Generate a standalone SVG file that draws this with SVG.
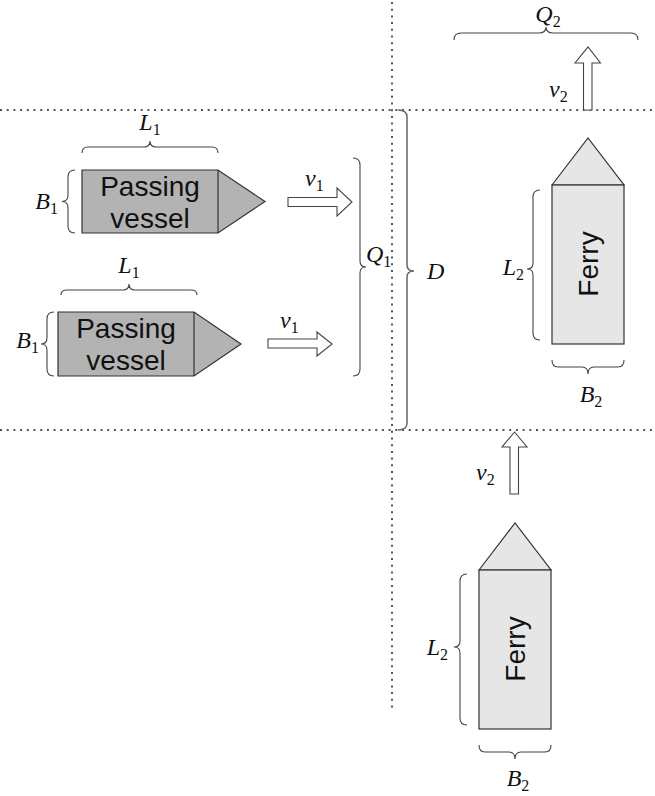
<svg xmlns="http://www.w3.org/2000/svg" width="655" height="796" viewBox="0 0 655 796">
  <style>
    .grid { stroke: #555; stroke-width: 2; stroke-dasharray: 2 4.7; fill: none; }
    .brace { stroke: #444; stroke-width: 1.1; fill: none; }
    .bracket { stroke: #666; stroke-width: 1.5; fill: none; }
    .vessel { fill: #b3b3b3; stroke: #333; stroke-width: 1.2; }
    .ferry { fill: #e6e6e6; stroke: #333; stroke-width: 1.2; }
    .arrow { fill: #fff; stroke: #444; stroke-width: 1.1; }
    .name { font-family: "Liberation Sans", Arial, sans-serif; font-size: 28px; fill: #111; text-anchor: middle; }
    .math { font-family: "Liberation Serif", "Times New Roman", serif; font-size: 24px; font-style: italic; fill: #111; }
    .sub { font-style: normal; font-size: 16px; }
  </style>

  <!-- reference grid -->
  <g id="grid">
    <line class="grid" x1="0" y1="110" x2="655" y2="110"/>
    <line class="grid" x1="0" y1="430" x2="655" y2="430"/>
    <line class="grid" x1="392" y1="2" x2="392" y2="710"/>
  </g>

  <!-- passing vessel 1 -->
  <g id="vessel1">
    <polygon class="vessel" points="82,170 218,170 265,201.5 218,233 82,233"/>
    <line x1="218" y1="170" x2="218" y2="233" stroke="#333" stroke-width="1.2"/>
    <text class="name" x="150" y="196">Passing</text>
    <text class="name" x="150" y="228">vessel</text>
  </g>

  <!-- passing vessel 2 -->
  <g id="vessel2">
    <polygon class="vessel" points="58,312 194,312 241,344 194,376 58,376"/>
    <line x1="194" y1="312" x2="194" y2="376" stroke="#333" stroke-width="1.2"/>
    <text class="name" x="126" y="338">Passing</text>
    <text class="name" x="126" y="370">vessel</text>
  </g>

  <!-- ferry, upper position -->
  <g id="ferry1">
    <polygon class="ferry" points="552,185 588,138 624,185"/>
    <rect class="ferry" x="552" y="185" width="72" height="159"/>
    <text class="name" transform="translate(598,264) rotate(-90)">Ferry</text>
  </g>

  <!-- ferry, lower position -->
  <g id="ferry2">
    <polygon class="ferry" points="479,570 515,523 551,570"/>
    <rect class="ferry" x="479" y="570" width="72" height="159"/>
    <text class="name" transform="translate(525,649) rotate(-90)">Ferry</text>
  </g>

  <!-- velocity arrows -->
  <g id="arrows">
    <polygon class="arrow" points="288,197.5 337,197.5 337,188 352,202 337,216 337,206.5 288,206.5"/>
    <polygon class="arrow" points="268,339 317,339 317,332 332,344 317,356 317,348 268,348"/>
    <polygon class="arrow" points="583.5,110 583.5,63 575,63 588,47 600.5,63 592,63 592,110"/>
    <polygon class="arrow" points="510,494 510,447 502,447 514.5,432 527,447 518.5,447 518.5,494"/>
  </g>

  <!-- dimension braces -->
  <g id="braces">
    <!-- L1 over vessel 1 -->
    <path class="brace" d="M82,153 Q82,147 88,147 L144,147 Q150,147 150,141 Q150,147 156,147 L212,147 Q218,147 218,153"/>
    <!-- L1 over vessel 2 -->
    <path class="brace" d="M61,295 Q61,290 67,290 L123,290 Q129,290 129,284 Q129,290 135,290 L191,290 Q197,290 197,295"/>
    <!-- Q2 -->
    <path class="brace" d="M454,40 Q454,33 461,33 L539,33 Q546,33 546,27 Q546,33 553,33 L631,33 Q638,33 638,40"/>
    <!-- B2 under upper ferry -->
    <path class="brace" d="M552,360 Q552,367 558,367 L582,367 Q588,367 588,374 Q588,367 594,367 L618,367 Q624,367 624,360"/>
    <!-- B2 under lower ferry -->
    <path class="brace" d="M479,745 Q479,752 485,752 L509,752 Q515,752 515,759 Q515,752 521,752 L545,752 Q551,752 551,745"/>
    <!-- B1 vessel 1 -->
    <path class="brace" d="M75,170 Q68,170 68,177 L68,195 Q68,201.5 62,201.5 Q68,201.5 68,208 L68,226 Q68,233 75,233"/>
    <!-- B1 vessel 2 -->
    <path class="brace" d="M54,312 Q47,312 47,319 L47,338 Q47,344 41,344 Q47,344 47,350 L47,369 Q47,376 54,376"/>
    <!-- L2 upper ferry -->
    <path class="brace" d="M540,190 Q533,190 533,197 L533,263 Q533,269 527,269 Q533,269 533,275 L533,333 Q533,340 540,340"/>
    <!-- L2 lower ferry -->
    <path class="brace" d="M467,574 Q460,574 460,581 L460,641 Q460,647 454,647 Q460,647 460,653 L460,718 Q460,725 467,725"/>
    <!-- Q1 -->
    <path class="brace" d="M353,158 Q360,158 360,165 L360,261 Q360,267 366,267 Q360,267 360,273 L360,369 Q360,376 353,376"/>
    <!-- D -->
    <path class="bracket" d="M398,110 Q407,110 407,117 L407,265 Q407,271 414,271 Q407,271 407,277 L407,423 Q407,430 398,430"/>
  </g>

  <!-- symbols -->
  <g id="labels">
    <text class="math" x="150" y="130" text-anchor="middle">L<tspan class="sub" dy="5">1</tspan></text>
    <text class="math" x="129" y="273" text-anchor="middle">L<tspan class="sub" dy="5">1</tspan></text>
    <text class="math" x="58" y="209" text-anchor="end">B<tspan class="sub" dy="5">1</tspan></text>
    <text class="math" x="39" y="348" text-anchor="end">B<tspan class="sub" dy="5">1</tspan></text>
    <text class="math" x="305" y="186">v<tspan class="sub" dy="5">1</tspan></text>
    <text class="math" x="280" y="328">v<tspan class="sub" dy="5">1</tspan></text>
    <text class="math" x="366" y="262">Q<tspan class="sub" dy="5">1</tspan></text>
    <text class="math" x="427" y="279">D</text>
    <text class="math" x="548" y="22" text-anchor="middle">Q<tspan class="sub" dy="5">2</tspan></text>
    <text class="math" x="549" y="97">v<tspan class="sub" dy="5">2</tspan></text>
    <text class="math" x="476" y="480">v<tspan class="sub" dy="5">2</tspan></text>
    <text class="math" x="524" y="275" text-anchor="end">L<tspan class="sub" dy="5">2</tspan></text>
    <text class="math" x="448" y="655" text-anchor="end">L<tspan class="sub" dy="5">2</tspan></text>
    <text class="math" x="591" y="402" text-anchor="middle">B<tspan class="sub" dy="5">2</tspan></text>
    <text class="math" x="518" y="786" text-anchor="middle">B<tspan class="sub" dy="5">2</tspan></text>
  </g>
</svg>
